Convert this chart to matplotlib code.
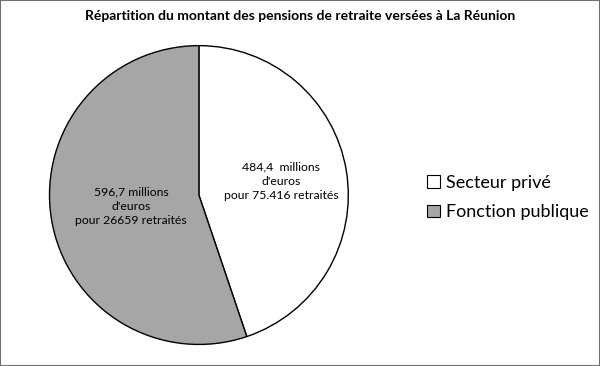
import numpy as np
import matplotlib
matplotlib.use('Agg')
from matplotlib import pyplot as plt
from matplotlib.patches import Rectangle, Patch

plt.rcParams['font.family'] = ['Lato', 'DejaVu Sans']

# données
categories = ['Secteur privé', 'Fonction publique']
montants = [484.4, 596.7]
libelles = ["484,4  millions\nd'euros\npour 75.416 retraités",
            "596,7 millions\nd'euros\npour 26659 retraités"]
couleurs = ['white', '#a6a6a6']

fig = plt.figure(figsize=(6, 3.66), dpi=100)
fig.patch.set_facecolor('white')
fig.patches.append(Rectangle((0, 0), 1, 1, transform=fig.transFigure,
                             fill=False, edgecolor='#6f6f6f', linewidth=1.5))

ax = fig.add_axes([0.08, 0.0546, 0.503, 0.825])
wedges, _ = ax.pie(montants, colors=couleurs, startangle=90, counterclock=False,
                   radius=1, wedgeprops=dict(edgecolor='black', linewidth=1))
ax.set_xlim(-1.01, 1.01)
ax.set_ylim(-1.01, 1.01)
ax.set_aspect('equal')

# étiquettes dans les parts
dist = [0.56, 0.46]
for w, lab, d in zip(wedges, libelles, dist):
    ang = np.deg2rad((w.theta1 + w.theta2) / 2)
    ax.text(d * np.cos(ang), d * np.sin(ang), lab, ha='center', va='center',
            fontsize=8.8, linespacing=1.35)

fig.text(0.5, 0.955, 'Répartition du montant des pensions de retraite versées à La Réunion',
         ha='center', va='center', fontsize=10, fontweight='bold')

handles = [Patch(facecolor=c, edgecolor='black', linewidth=0.8) for c in couleurs]
fig.legend(handles, categories, loc='center left', bbox_to_anchor=(0.685, 0.46),
           frameon=False, fontsize=13, handlelength=0.7, handleheight=0.7,
           handletextpad=0.35, labelspacing=0.75)

fig.savefig('out.png', dpi=100)
